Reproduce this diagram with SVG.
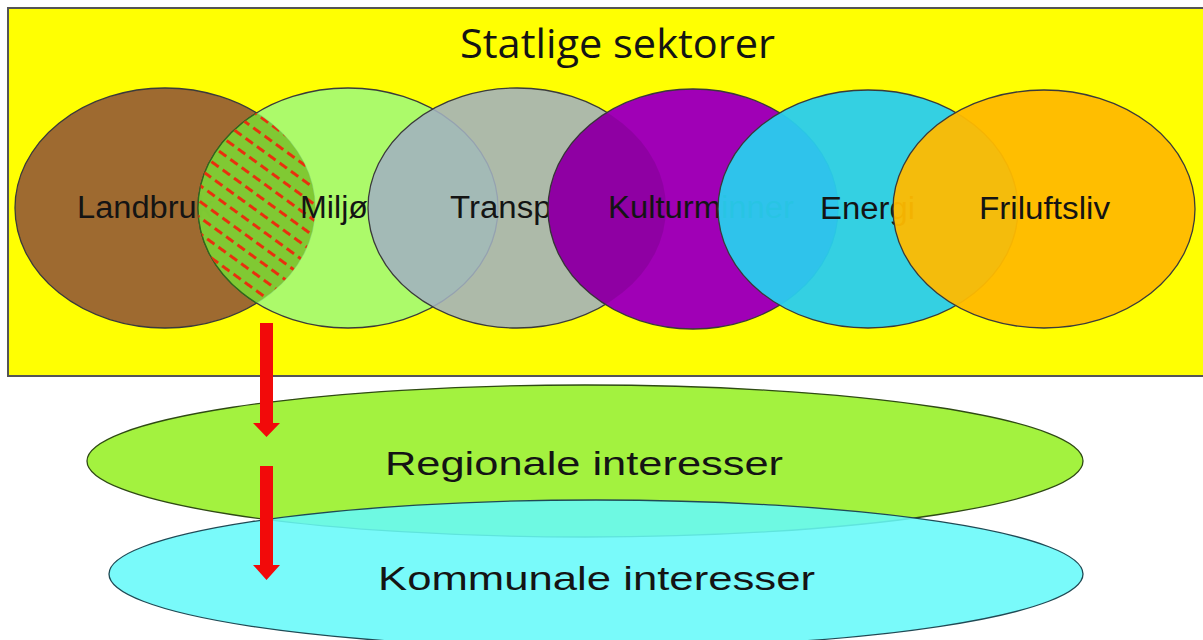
<svg xmlns="http://www.w3.org/2000/svg" width="1203" height="640" viewBox="0 0 1203 640">
  <style>
    .lbl { font-family: "Liberation Sans", Arial, sans-serif; font-size: 31px; fill: #141414; }
    .big { font-family: "Liberation Sans", Arial, sans-serif; font-size: 33px; fill: #141414; }
    .title { font-family: "Open Sans", "Liberation Sans", sans-serif; font-size: 41px; fill: #141414; }
    .sec { stroke: #3a3a3a; stroke-width: 1.3; }
    .arrow { fill: #F20A0A; }
  </style>
  <defs>
    <clipPath id="clipLand">
      <ellipse cx="165" cy="208" rx="150" ry="120"/>
    </clipPath>
    <clipPath id="clipTransport">
      <ellipse cx="517" cy="208" rx="149" ry="120"/>
    </clipPath>
    <pattern id="hatch" patternUnits="userSpaceOnUse" width="14" height="13" patternTransform="rotate(36)">
      <line x1="0" y1="6.5" x2="9" y2="6.5" stroke="#E8300E" stroke-width="3"/>
    </pattern>
  </defs>

  <rect id="statlige-bg" x="8" y="8" width="1200" height="368" fill="#FFFF02" stroke="#555" stroke-width="2"/>
  <text class="title" x="460" y="58" textLength="315" lengthAdjust="spacingAndGlyphs">Statlige sektorer</text>

  <g id="node-landbruk">
    <ellipse class="sec" cx="165" cy="208" rx="150" ry="120" fill="#9E6A30"/>
    <text class="lbl" x="77" y="218" textLength="136" lengthAdjust="spacingAndGlyphs">Landbruk</text>
  </g>
  <g id="node-miljo">
    <ellipse class="sec" cx="348" cy="208" rx="150" ry="120" fill="#9DF97D" fill-opacity="0.85" stroke="#3f5a2a"/>
  </g>
  <g id="overlap-landbruk-miljo" clip-path="url(#clipLand)">
    <ellipse cx="348" cy="208" rx="150" ry="120" fill="#7CC52C" fill-opacity="0.9" stroke="#2f6a1a" stroke-width="1.3"/>
    <ellipse cx="348" cy="208" rx="150" ry="120" fill="url(#hatch)"/>
  </g>
  <g id="node-miljo-label">
    <text class="lbl" x="300" y="218" textLength="68" lengthAdjust="spacingAndGlyphs">Miljø</text>
  </g>
  <g id="node-transport">
    <ellipse class="sec" cx="517" cy="208" rx="149" ry="120" fill="#A2B0C0" fill-opacity="0.88"/>
    <text class="lbl" x="450" y="218" textLength="140" lengthAdjust="spacingAndGlyphs">Transport</text>
  </g>
  <g id="node-kulturminner">
    <ellipse class="sec" cx="693" cy="209" rx="145" ry="120" fill="#A000B6" stroke="#2a0a35"/>
    <ellipse cx="693" cy="209" rx="145" ry="120" fill="#000" fill-opacity="0.1" clip-path="url(#clipTransport)"/>
    <text class="lbl" x="608" y="218" textLength="186" lengthAdjust="spacingAndGlyphs">Kulturminner</text>
  </g>
  <g id="node-energi">
    <ellipse class="sec" cx="868" cy="209" rx="150" ry="119" fill="#29CDEE" fill-opacity="0.95" stroke="#1a3050"/>
    <text class="lbl" x="820" y="219" textLength="95" lengthAdjust="spacingAndGlyphs">Energi</text>
  </g>
  <g id="node-friluftsliv">
    <ellipse class="sec" cx="1044" cy="209" rx="151" ry="119" fill="#FFBB00" fill-opacity="0.95"/>
    <text class="lbl" x="979" y="219" textLength="131" lengthAdjust="spacingAndGlyphs">Friluftsliv</text>
  </g>

  <g id="node-regionale">
    <ellipse cx="585" cy="461" rx="498" ry="76" fill="#A3F23F" stroke="#2f4a14" stroke-width="1.3"/>
    <text class="big" x="385" y="475" textLength="398" lengthAdjust="spacingAndGlyphs">Regionale interesser</text>
  </g>
  <g id="node-kommunale">
    <ellipse cx="596" cy="574" rx="487" ry="74" fill="#66F9F9" fill-opacity="0.88" stroke="#1f4a55" stroke-width="1.3"/>
    <text class="big" x="378" y="590" textLength="437" lengthAdjust="spacingAndGlyphs">Kommunale interesser</text>
  </g>

  <g id="connectors">
    <path class="arrow" d="M260,323 H273 V423 H280 L266.5,437 L253,423 H260 Z"/>
    <path class="arrow" d="M260,466 H273 V565 H280 L266.5,580 L253,565 H260 Z"/>
  </g>
</svg>
